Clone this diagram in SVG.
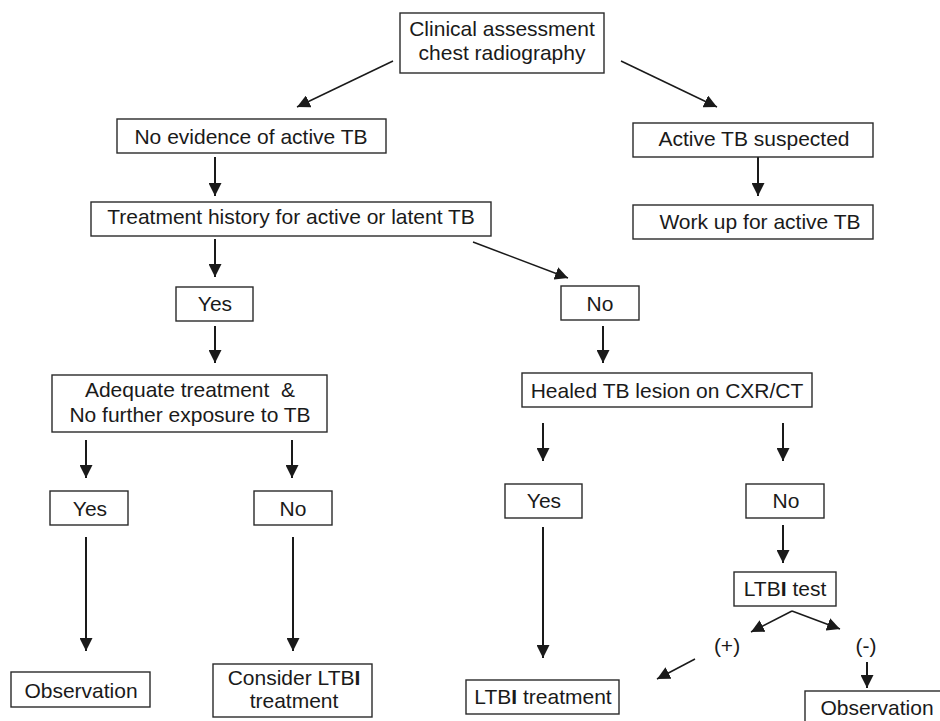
<svg xmlns="http://www.w3.org/2000/svg" width="940" height="721" viewBox="0 0 940 721">
<defs>
<style>
.box{fill:#fff;stroke:#2a2a2a;stroke-width:1.4}
.t{font-family:"Liberation Sans",Arial,sans-serif;font-size:21px;fill:#1a1a1a;text-anchor:middle}
.c{stroke:#1a1a1a;stroke-width:2;fill:none;marker-end:url(#ah)}
.d{stroke:#1a1a1a;stroke-width:1.5;fill:none;marker-end:url(#ah)}
.b{font-weight:bold}
</style>
<marker id="ah" viewBox="0 0 13 13" markerWidth="13" markerHeight="13" refX="13" refY="6.5" orient="auto" markerUnits="userSpaceOnUse">
<path d="M0,0 L13,6.5 L0,13 z" fill="#1a1a1a"/>
</marker>
</defs>
<rect width="940" height="721" fill="#fff"/>
<g id="connectors">
<line class="d" x1="393" y1="61" x2="297" y2="107"/>
<line class="d" x1="621" y1="61" x2="717" y2="107"/>
<line class="c" x1="215" y1="157" x2="215" y2="196"/>
<line class="c" x1="758" y1="157" x2="758" y2="196"/>
<line class="c" x1="215" y1="239" x2="215" y2="277"/>
<line class="d" x1="473" y1="242" x2="568" y2="278"/>
<line class="c" x1="215" y1="326" x2="215" y2="363"/>
<line class="c" x1="603" y1="326" x2="603" y2="363"/>
<line class="c" x1="86" y1="440" x2="86" y2="478"/>
<line class="c" x1="292" y1="440" x2="292" y2="478"/>
<line class="c" x1="86" y1="537" x2="86" y2="651"/>
<line class="c" x1="293" y1="537" x2="293" y2="651"/>
<line class="c" x1="543" y1="423" x2="543" y2="461"/>
<line class="c" x1="783" y1="423" x2="783" y2="461"/>
<line class="c" x1="543" y1="527" x2="543" y2="658"/>
<line class="c" x1="783" y1="525" x2="783" y2="563"/>
<line class="d" x1="792" y1="611" x2="751" y2="632"/>
<line class="d" x1="792" y1="611" x2="840" y2="629"/>
<line class="d" x1="695" y1="659" x2="657" y2="679"/>
<line class="c" x1="867" y1="662" x2="867" y2="688"/>
</g>
<g id="n-clinical">
<rect class="box" x="400" y="13" width="204" height="60"/>
<text class="t" x="502" y="36">Clinical assessment</text>
<text class="t" x="502" y="60">chest radiography</text>
</g>
<g id="n-noevidence">
<rect class="box" x="117" y="119" width="269" height="34"/>
<text class="t" x="251" y="144">No evidence of active TB</text>
</g>
<g id="n-suspected">
<rect class="box" x="633" y="123" width="240" height="34"/>
<text class="t" x="754" y="146">Active TB suspected</text>
</g>
<g id="n-workup">
<rect class="box" x="633" y="205" width="240" height="34"/>
<text class="t" x="760" y="229">Work up for active TB</text>
</g>
<g id="n-history">
<rect class="box" x="91" y="202" width="400" height="34"/>
<text class="t" x="291" y="224">Treatment history for active or latent TB</text>
</g>
<g id="n-yes1">
<rect class="box" x="176" y="287" width="77" height="34"/>
<text class="t" x="215" y="311">Yes</text>
</g>
<g id="n-no1">
<rect class="box" x="561" y="286" width="78" height="34"/>
<text class="t" x="600" y="311">No</text>
</g>
<g id="n-adequate">
<rect class="box" x="52" y="375" width="275" height="57"/>
<text class="t" x="190" y="397" xml:space="preserve">Adequate treatment  &amp;</text>
<text class="t" x="190" y="422">No further exposure to TB</text>
</g>
<g id="n-healed">
<rect class="box" x="522" y="373" width="290" height="34"/>
<text class="t" x="667" y="398">Healed TB lesion on CXR/CT</text>
</g>
<g id="n-yes2">
<rect class="box" x="50" y="491" width="78" height="34"/>
<text class="t" x="90" y="516">Yes</text>
</g>
<g id="n-no2">
<rect class="box" x="254" y="491" width="78" height="34"/>
<text class="t" x="293" y="516">No</text>
</g>
<g id="n-yes3">
<rect class="box" x="505" y="484" width="77" height="34"/>
<text class="t" x="544" y="508">Yes</text>
</g>
<g id="n-no3">
<rect class="box" x="746" y="484" width="78" height="34"/>
<text class="t" x="786" y="508">No</text>
</g>
<g id="n-ltbitest">
<rect class="box" x="734" y="572" width="102" height="34"/>
<text class="t" x="785" y="596">LTB<tspan class="b">I</tspan> test</text>
</g>
<g id="n-plus">
<text class="t" x="727" y="653">(+)</text>
</g>
<g id="n-minus">
<text class="t" x="866" y="653">(-)</text>
</g>
<g id="n-obs1">
<rect class="box" x="11" y="672" width="139" height="35"/>
<text class="t" x="81" y="698">Observation</text>
</g>
<g id="n-consider">
<rect class="box" x="213" y="664" width="159" height="53"/>
<text class="t" x="294" y="685">Consider LTB<tspan class="b">I</tspan></text>
<text class="t" x="294" y="708">treatment</text>
</g>
<g id="n-ltbitreat">
<rect class="box" x="466" y="680" width="153" height="34"/>
<text class="t" x="543" y="704">LTB<tspan class="b">I</tspan> treatment</text>
</g>
<g id="n-obs2">
<rect class="box" x="805" y="691" width="150" height="40"/>
<text class="t" x="877" y="715">Observation</text>
</g>
</svg>
